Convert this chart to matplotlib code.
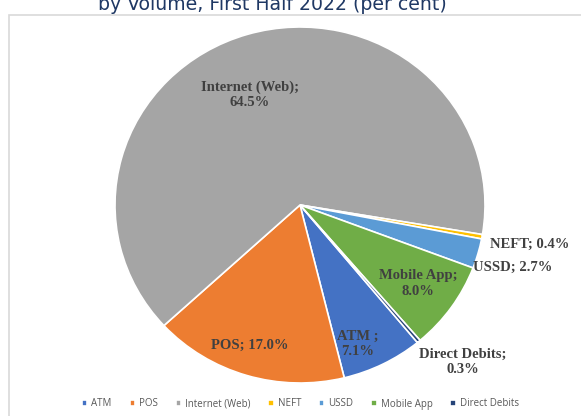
import matplotlib.pyplot as plt
from matplotlib.patches import Rectangle
import numpy as np

# data
channels = ['ATM', 'POS', 'Internet (Web)', 'NEFT', 'USSD', 'Mobile App', 'Direct Debits']
shares = [7.1, 17.0, 64.5, 0.4, 2.7, 8.0, 0.3]
label_text = ['ATM ;\n7.1%', 'POS; 17.0%', 'Internet (Web);\n64.5%', 'NEFT; 0.4%',
              'USSD; 2.7%', 'Mobile App;\n8.0%', 'Direct Debits;\n0.3%']
colors = ['#4472C4', '#ED7D31', '#A5A5A5', '#FFC000', '#5B9BD5', '#70AD47', '#264478']

# label placement (radius factor, angle nudge in degrees)
label_r = [0.84, 0.835, 0.676, 1.26, 1.20, 0.777, 1.245]
label_dang = [-4.9, -2.4, 7.0, 0.2, -1.0, 0.6, 5.0]

fig = plt.figure(figsize=(5.81, 4.16), dpi=100)
ax = fig.add_axes([0, 0, 1, 1])

wedges, _ = ax.pie(shares, colors=colors, startangle=-50.6, counterclock=False,
                   radius=1.0, center=(0, 0), frame=False,
                   wedgeprops=dict(edgecolor='white', linewidth=1.2))

for w, txt, rf, da in zip(wedges, label_text, label_r, label_dang):
    ang = np.deg2rad((w.theta1 + w.theta2) / 2 + da)
    ax.text(rf * np.cos(ang), rf * np.sin(ang), txt, ha='center', va='center',
            fontsize=10.5, fontweight='bold', family='Liberation Serif',
            color='#404040', linespacing=1.25)

# non-square scaling to follow the reference
sx, sy = 185.0, 178.0
ax.set_xlim(-300 / sx, 281 / sx)
ax.set_ylim(-211 / sy, 205 / sy)
ax.set_aspect('auto')
ax.axis('off')

# chart area border
fig.patches.append(Rectangle((8.5 / 581, -0.1), 1.2, (416 - 14.5) / 416 + 0.1,
                             transform=fig.transFigure, fill=False,
                             edgecolor='#D9D9D9', linewidth=1.2))

# title (cut off at top in the source)
fig.text(272 / 581, 1 - 9.5 / 416, 'by Volume, First Half 2022 (per cent)',
         ha='center', va='baseline', fontsize=13.6, color='#1F3864',
         family='DejaVu Sans')

leg = fig.legend(wedges, channels, loc='center', bbox_to_anchor=(0.517, 1 - 404 / 416),
                 ncol=7, frameon=False, handlelength=0.55, handleheight=0.55,
                 handletextpad=0.4, columnspacing=1.85, prop={'family': 'Open Sans', 'size': 7})
for t in leg.get_texts():
    t.set_color('#595959')

fig.savefig('out.png', dpi=100)
